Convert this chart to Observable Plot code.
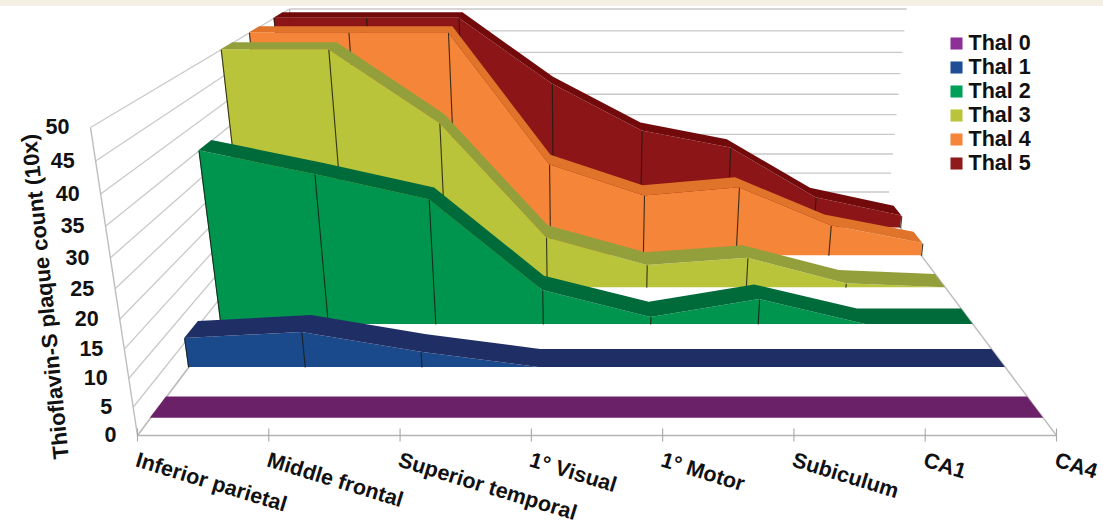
<!DOCTYPE html>
<html>
<head>
<meta charset="utf-8">
<script src="https://cdn.jsdelivr.net/npm/d3@7"></script>
<script src="https://cdn.jsdelivr.net/npm/@observablehq/plot@0.6"></script>
<style>
  html, body { margin: 0; padding: 0; background: #fff; }
  #band { position: absolute; left: 0; top: 0; width: 1103px; height: 6px; background: #f4f1e4; }
  #chart { position: absolute; left: 0; top: 0; }
  svg { display: block; }
</style>
</head>
<body>
<div id="chart"></div>
<div id="band"></div>
<script>
// ---- data ----
const categories = ["Inferior parietal", "Middle frontal", "Superior temporal", "1° Visual", "1° Motor", "Subiculum", "CA1", "CA4"];
const seriesNames = ["Thal 0", "Thal 1", "Thal 2", "Thal 3", "Thal 4", "Thal 5"];
const thal0 = [0, 0, 0, 0, 0, 0, 0, 0];
const thal1 = [5.7, 6.9, 3.0, 0, 0, 0, 0, 0];
const thal2 = [35, 30.5, 25.6, 7.2, 1.5, 5.3, 0, 0];
const thal3 = [50, 50, 35.5, 11.3, 5.1, 6.7, 0.9, 0];
const thal4 = [50, 50, 50, 21.6, 14.4, 16.3, 7.3, 3.0];
const thal5 = [50, 50, 50, 35.3, 24.3, 20.2, 7.8, 3.1];
const seriesValues = [thal0, thal1, thal2, thal3, thal4, thal5];
const yTicks = [0, 5, 10, 15, 20, 25, 30, 35, 40, 45, 50];

const faceColors = ["#6b2168", "#1a4a8c", "#00954f", "#bac43a", "#f58538", "#8c1518"];
const topColors = ["#6b2168", "#1f2f66", "#006b3a", "#939f3a", "#e0742a", "#720a0c"];
const legendColors = ["#8e2f98", "#1f4e96", "#00a05a", "#bac43a", "#f58539", "#8f1a1c"];

// ---- the 3-D view of the chart box (a perspective projection) ----
const view = {
  front: {bottom: [[137, 435], [1056, 435]], top: [[90, 127], [1103, 127]]},
  back: {bottom: [[306, 210], [887, 210]], top: [[289, 8.5], [906, 8.5]]},
  backWeight: 1.567,
  bottomWeight: 1.1,
  stripFront: 0.3,
  stripBack: 0.7
};
const maxI = categories.length - 1, maxV = 50, maxD = seriesNames.length;
function project(i, value, depth) {
  const u = i / maxI, v = value / maxV, d = depth / maxD;
  let sx = 0, sy = 0, sw = 0;
  for (const [dw, plane, zd] of [[1 - d, view.front, 1], [d, view.back, view.backWeight]]) {
    for (const [vw, edge, zv] of [[1 - v, plane.bottom, view.bottomWeight], [v, plane.top, 1]]) {
      for (const [uw, c] of [[1 - u, edge[0]], [u, edge[1]]]) {
        const w = dw * vw * uw * zd * zv;
        sx += w * c[0]; sy += w * c[1]; sw += w;
      }
    }
  }
  return [sx / sw, sy / sw];
}
const seg = (a, b, extra = {}) => ({x1: a[0], y1: a[1], x2: b[0], y2: b[1], ...extra});

// walls
const wallLines = yTicks.flatMap(t => [
  seg(project(0, t, maxD), project(maxI, t, maxD)),
  seg(project(0, t, 0), project(0, t, maxD))
]);
const frameLines = [
  seg(project(0, 0, 0), project(0, maxV, 0)),
  seg(project(0, maxV, maxD), project(0, 0, maxD)),
  seg(project(maxI, 0, 0), project(maxI, 0, maxD)),
  seg(project(0, 0, 0), project(0, 0, maxD))
];
const xAxisLine = [seg(project(0, 0, 0), project(maxI, 0, 0))];
const xTicks = categories.map((c, i) => {
  const p = project(i, 0, 0);
  return {x1: p[0], x2: p[0], y1: p[1] - 7, y2: p[1] + 6};
});

// series marks, back to front
function seriesMarks(k) {
  const vals = seriesValues[k];
  const df = k + view.stripFront, db = k + view.stripBack;
  const face = vals.map((v, i) => seg(project(i, 0, df), project(i, v, df)));
  const top = vals.map((v, i) => seg(project(i, v, df), project(i, v, db)));
  const ribs = vals.map((v, i) => seg(project(i, 0, df), project(i, v, df))).filter((r, i) => vals[i] > 0);
  const rect = a => ({x1: "x1", y1: "y1", x2: "x2", y2: "y2", ...a});
  return [
    Plot.area(face, rect({fill: faceColors[k]})),
    Plot.link(ribs, rect({stroke: "#1c1c14", strokeOpacity: 0.85, strokeWidth: 1.1})),
    Plot.area(top, rect({fill: topColors[k]}))
  ];
}

// legend rows
const legendRows = seriesNames.map((name, k) => ({name, k, x: 956, tx: 968, y: 43 + 24 * k}));

// axis labels
const xLabels = categories.map((c, i) => {
  const p = project(i, 0, 0);
  return {c, x: p[0] - 1, y: p[1] + 24};
});
const yLabels = yTicks.map(t => {
  const p = project(0, t, 0);
  return {t, x: p[0] - 21, y: p[1]};
});

const font = "Liberation Sans, Arial, sans-serif";
const plot = Plot.plot({
  width: 1103, height: 526,
  margin: 0,
  x: {domain: [0, 1103], range: [0, 1103], axis: null},
  y: {domain: [0, 526], range: [0, 526], axis: null},
  style: {background: "transparent", fontFamily: font},
  marks: [
    Plot.link(wallLines, {x1: "x1", y1: "y1", x2: "x2", y2: "y2", stroke: "#c9c9c9", strokeWidth: 1.3}),
    Plot.link(frameLines, {x1: "x1", y1: "y1", x2: "x2", y2: "y2", stroke: "#bdbdbd", strokeWidth: 1.4}),
    ...d3.range(seriesNames.length - 1, -1, -1).flatMap(seriesMarks),
    Plot.link(xAxisLine, {x1: "x1", y1: "y1", x2: "x2", y2: "y2", stroke: "#b5b5b5", strokeWidth: 1.4}),
    Plot.link(xTicks, {x1: "x1", y1: "y1", x2: "x2", y2: "y2", stroke: "#a8a8a8", strokeWidth: 1.1}),
    Plot.text(xLabels, {x: "x", y: "y", text: "c", rotate: 17, textAnchor: "start", lineAnchor: "middle", fontSize: 21.5, fontWeight: "bold", fill: "#111"}),
    Plot.text(yLabels, {x: "x", y: "y", text: d => String(d.t), textAnchor: "end", lineAnchor: "middle", fontSize: 21.5, fontWeight: "bold", fill: "#111"}),
    Plot.text(["Thioflavin-S plaque count (10x)"], {x: () => 45, y: () => 296, rotate: -95.7, textAnchor: "middle", lineAnchor: "middle", fontSize: 22, fontWeight: "bold", fill: "#111"}),
    Plot.dot(legendRows, {x: "x", y: "y", symbol: "square", r: 6.8, fill: d => legendColors[d.k]}),
    Plot.text(legendRows, {x: "tx", y: "y", text: "name", textAnchor: "start", lineAnchor: "middle", fontSize: 21.5, fontWeight: "bold", fill: "#111"})
  ]
});
document.getElementById("chart").append(plot);
</script>
</body>
</html>
